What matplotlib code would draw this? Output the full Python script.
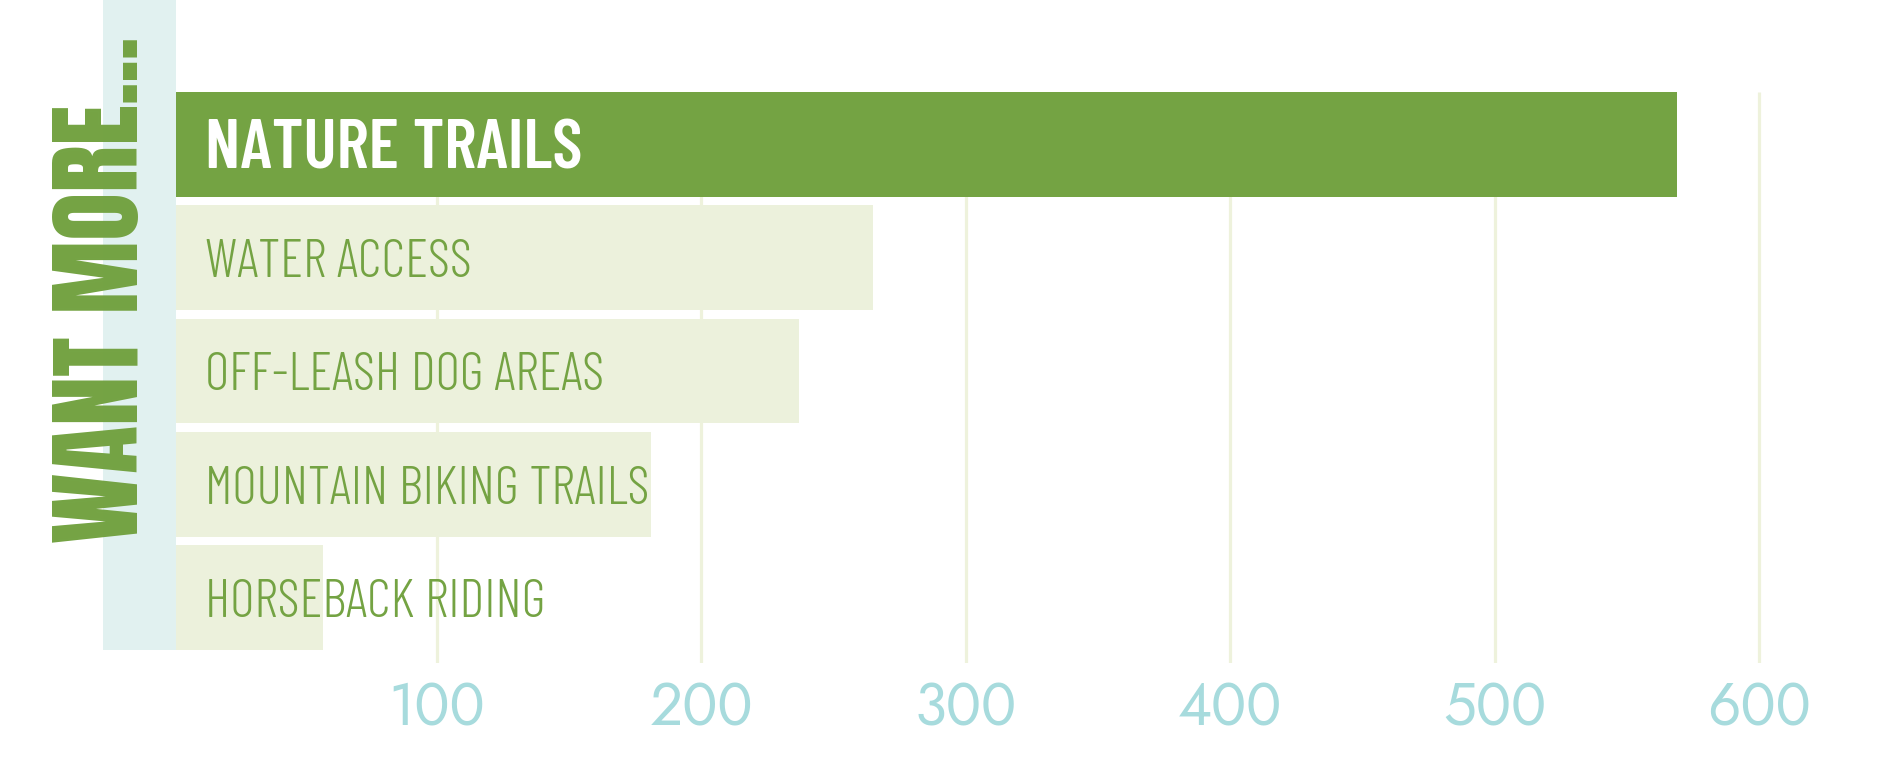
import matplotlib
matplotlib.use("Agg")
import matplotlib.pyplot as plt
from matplotlib.patches import Rectangle

# ---- data ----
categories = ["NATURE TRAILS", "WATER ACCESS", "OFF-LEASH DOG AREAS",
              "MOUNTAIN BIKING TRAILS", "HORSEBACK RIDING"]
values = [569, 265, 237, 181, 57]
highlight = [True, False, False, False, False]
tick_values = [100, 200, 300, 400, 500, 600]
tick_labels = ["100", "200", "300", "400", "500", "600"]
title = "WANT MORE..."

# ---- style ----
DARK = "#74a343"
LIGHT = "#ecf1dc"
STRIP = "#e1f1f0"
GRID = "#eef2dc"
TICK = "#a7dbdd"
THIN = ["Barlow Condensed", "DejaVu Sans"]
BOLD = ["Barlow Condensed", "DejaVu Sans"]
HEAVY = ["Anton", "Barlow Condensed", "DejaVu Sans"]
TICKFONT = ["Jost", "Josefin Sans", "DejaVu Sans"]

W, H = 1882, 780
fig = plt.figure(figsize=(W / 100, H / 100), dpi=100)
fig.patch.set_facecolor("white")

ax_bottom_px = 663
ax = fig.add_axes([0, 1 - ax_bottom_px / H, 1, ax_bottom_px / H])
ax.set_facecolor("none")

pitch_px = 113.3
first_center_px = 144.3
x0_px = 172.6
unit_px = 2.644

ax.set_xlim(-x0_px / unit_px, (W - x0_px) / unit_px)
ax.set_ylim((ax_bottom_px - first_center_px) / pitch_px, -first_center_px / pitch_px)

bar_h = 104.7 / pitch_px
ypos = list(range(len(categories)))

# gridlines
ax.vlines(tick_values, -bar_h / 2, (ax_bottom_px - first_center_px) / pitch_px,
          colors=GRID, linewidth=2.3, zorder=1)

# bars
colors = [DARK if h else LIGHT for h in highlight]
ax.barh(ypos, values, height=bar_h, color=colors, zorder=2, linewidth=0)

# left strip (decoration)
fig.patches.append(Rectangle((103 / W, 1 - 649.7 / H), 73 / W, 649.7 / H,
                             transform=fig.transFigure, facecolor=STRIP,
                             edgecolor="none", zorder=3))

# labels
for i, (cat, hl) in enumerate(zip(categories, highlight)):
    if hl:
        ax.annotate(cat, xy=(0, i), xytext=(32, -24.0), textcoords="offset pixels",
                    ha="left", va="baseline", color="white", fontsize=50,
                    family=BOLD, fontweight=600, zorder=5)
    else:
        ax.annotate(cat, xy=(0, i), xytext=(32, -19.5), textcoords="offset pixels",
                    ha="left", va="baseline", color=DARK, fontsize=38.5,
                    family=THIN, fontweight=300, zorder=5)

# x ticks
ax.set_xticks(tick_values)
ax.set_xticklabels(tick_labels, family=TICKFONT, fontweight=300, fontsize=42, color=TICK)
ax.tick_params(axis="x", length=0, pad=12)
ax.set_yticks([])
for s in ax.spines.values():
    s.set_visible(False)

# title (rotated, baseline on the right)
fig.text(138 / W, 1 - 290 / H, title, rotation=90, rotation_mode="anchor",
         ha="center", va="baseline", color=DARK, fontsize=71,
         family=HEAVY, zorder=6)

fig.savefig("out.png", dpi=100, facecolor="white")
